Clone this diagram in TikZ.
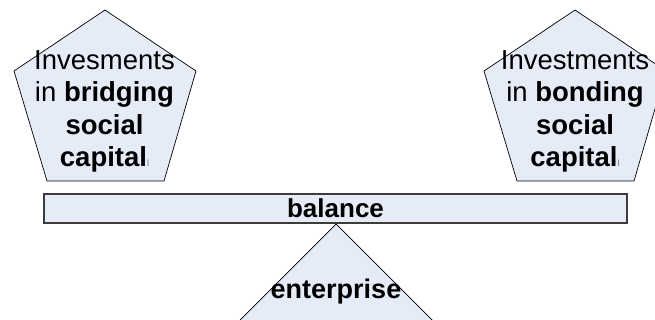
\documentclass[tikz,border=0pt]{standalone}
\usepackage{fontspec}
\setmainfont{Liberation Sans}
\definecolor{shapefill}{HTML}{E6ECF7}
\definecolor{beamline}{HTML}{3C3C3C}
\newcommand{\tailmark}{{\fontsize{9}{9}\selectfont\color{black!55}l}}
\begin{document}
\begin{tikzpicture}[x=1pt,y=-1pt,
  plate/.style={fill=shapefill,draw=black,line width=0.7pt,line join=miter},
  txt/.style={inner sep=0pt,font=\fontsize{27.5}{32.3}\selectfont,align=center}]
\useasboundingbox (0,0) rectangle (655,320);
\begin{scope}
\clip (0,0) rectangle (655,320);
% left pentagon
\draw[plate] (105,10) -- (196,71) -- (164,181) -- (47,181) -- (14,71) -- cycle;
% right pentagon
\draw[plate] (575,10) -- (666,71) -- (634,181) -- (517,181) -- (484,71) -- cycle;
% fulcrum
\draw[plate] (336,224) -- (446,334) -- (226,334) -- cycle;
\end{scope}
% beam
\node[fill=shapefill,draw=beamline,line width=1.4pt,minimum width=583pt,minimum height=29pt,inner sep=0pt,
      font=\fontsize{26}{28}\selectfont\bfseries] (balance) at (335.5,208.5) {balance};
% texts
\node[txt,anchor=north] (left) at (104.5,50.5)
  {Invesments\\in \textbf{bridging}\\\textbf{social}\\\textbf{capital}\tailmark};
\node[txt,anchor=north] (right) at (575,50.5)
  {Investments\\in \textbf{bonding}\\\textbf{social}\\\textbf{capital}\tailmark};
\node[txt,anchor=base,font=\fontsize{27}{29.5}\selectfont\bfseries] (enterprise) at (336,298) {enterprise};
\end{tikzpicture}
\end{document}
